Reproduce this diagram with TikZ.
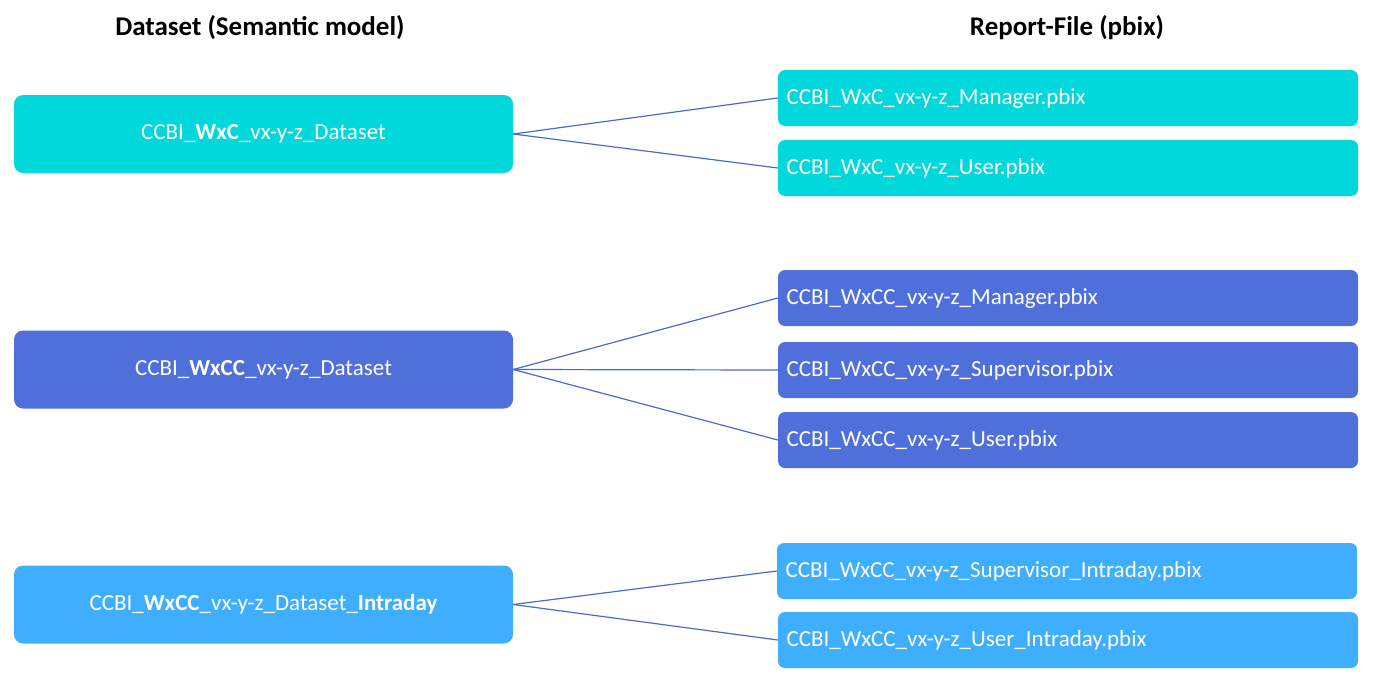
\documentclass[tikz,border=0pt]{standalone}
\usepackage{fontspec}
\setmainfont{Carlito}
\definecolor{cyanb}{HTML}{00D8DC}
\definecolor{blueb}{HTML}{4F70DB}
\definecolor{lblueb}{HTML}{40AEFF}
\definecolor{linec}{HTML}{4A6AD0}
\begin{document}
\begin{tikzpicture}[x=1pt,y=-1pt,
  lbox/.style={rounded corners=9pt,minimum width=499pt,minimum height=78pt,text=white,font=\fontsize{23}{26}\selectfont,inner sep=0pt},
  rbox/.style={rounded corners=7pt,minimum width=580pt,minimum height=56pt,text=white,font=\fontsize{23}{26}\selectfont,inner sep=0pt,text width=563pt,align=left},
  hdr/.style={font=\bfseries\fontsize{27}{30}\selectfont},
  conn/.style={draw=linec,line width=1.2pt}]
\useasboundingbox (0,0) rectangle (1375,691);
\node[hdr] (h1) at (260,28) {Dataset (Semantic model)};
\node[hdr] (h2) at (1067,28) {Report-File (pbix)};
\node[lbox,fill=cyanb] (d1) at (263.5,134) {CCBI\_\textbf{WxC}\_vx-y-z\_Dataset};
\node[lbox,fill=blueb] (d2) at (263.5,369.5) {CCBI\_\textbf{WxCC}\_vx-y-z\_Dataset};
\node[lbox,fill=lblueb] (d3) at (263.5,604.5) {CCBI\_\textbf{WxCC}\_vx-y-z\_Dataset\_\textbf{Intraday}};
\node[rbox,fill=cyanb] (r1) at (1068,98) {CCBI\_WxC\_vx-y-z\_Manager.pbix};
\node[rbox,fill=cyanb] (r2) at (1068,168) {CCBI\_WxC\_vx-y-z\_User.pbix};
\node[rbox,fill=blueb] (r3) at (1068,298) {CCBI\_WxCC\_vx-y-z\_Manager.pbix};
\node[rbox,fill=blueb] (r4) at (1068,370) {CCBI\_WxCC\_vx-y-z\_Supervisor.pbix};
\node[rbox,fill=blueb] (r5) at (1068,440) {CCBI\_WxCC\_vx-y-z\_User.pbix};
\node[rbox,fill=lblueb] (r6) at (1067,571) {CCBI\_WxCC\_vx-y-z\_Supervisor\_Intraday.pbix};
\node[rbox,fill=lblueb] (r7) at (1068,640) {CCBI\_WxCC\_vx-y-z\_User\_Intraday.pbix};
\draw[conn] (d1.east) -- (r1.west);
\draw[conn] (d1.east) -- (r2.west);
\draw[conn] (d2.east) -- (r3.west);
\draw[conn] (d2.east) -- (r4.west);
\draw[conn] (d2.east) -- (r5.west);
\draw[conn] (d3.east) -- (r6.west);
\draw[conn] (d3.east) -- (r7.west);
\end{tikzpicture}
\end{document}
